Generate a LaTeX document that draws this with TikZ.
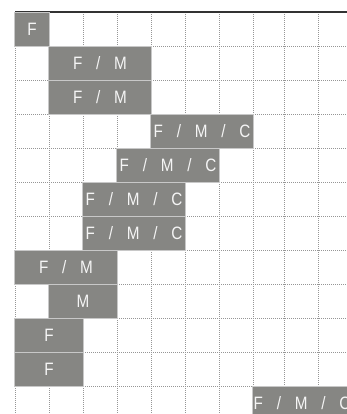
\documentclass[tikz,border=0pt]{standalone}
\usepackage{fontspec}
\setmainfont{Liberation Sans}
\newfontfamily\barfont[FakeStretch=0.85]{Liberation Sans}
\definecolor{barfill}{RGB}{134,134,131}
\definecolor{barline}{RGB}{200,200,200}
\definecolor{gridc}{RGB}{150,150,150}
\definecolor{topc}{RGB}{50,50,50}
\newcommand\gp{\hspace{13.8bp}}
\tikzset{
  bar/.style={rectangle, fill=barfill, draw=barline, line width=1bp,
    minimum height=34bp, inner sep=0pt, text=white!96!black,
    font=\barfont\fontsize{18}{18}\selectfont},
  gridline/.style={draw=gridc, line width=0.8bp, dash pattern=on 1bp off 1bp},
}
\begin{document}
\begin{tikzpicture}[x=1bp,y=-1bp]
\useasboundingbox (0,0) rectangle (347,414);
\clip (0,0) rectangle (347,414);
% grid
\foreach \x in {15,49,83,117,151,185,219,253,284,318}
  \draw[gridline] (\x,12) -- (\x,414);
\foreach \y in {46,80,114,148,182,216,250,284,318,352,386}
  \draw[gridline] (15,\y) -- (347,\y);
\draw[topc, line width=1.5bp] (15,12) -- (347,12);
% bars
\node[bar, minimum width=34bp]  (r0)  at (32,29)  {F};
\node[bar, minimum width=102bp] (r1)  at (100,63) {F\gp/\gp M};
\node[bar, minimum width=102bp] (r2)  at (100,97) {F\gp/\gp M};
\node[bar, minimum width=102bp] (r3)  at (202,131) {F\gp/\gp M\gp/\gp C};
\node[bar, minimum width=102bp] (r4)  at (168,165) {F\gp/\gp M\gp/\gp C};
\node[bar, minimum width=102bp] (r5)  at (134,199) {F\gp/\gp M\gp/\gp C};
\node[bar, minimum width=102bp] (r6)  at (134,233) {F\gp/\gp M\gp/\gp C};
\node[bar, minimum width=102bp] (r7)  at (66,267) {F\gp/\gp M};
\node[bar, minimum width=68bp]  (r8)  at (83,301) {M};
\node[bar, minimum width=68bp]  (r9)  at (49,335) {F};
\node[bar, minimum width=68bp]  (r10) at (49,369) {F};
\node[bar, minimum width=98bp]  (r11) at (302,403) {F\gp/\gp M\gp/\gp C};
\end{tikzpicture}
\end{document}
